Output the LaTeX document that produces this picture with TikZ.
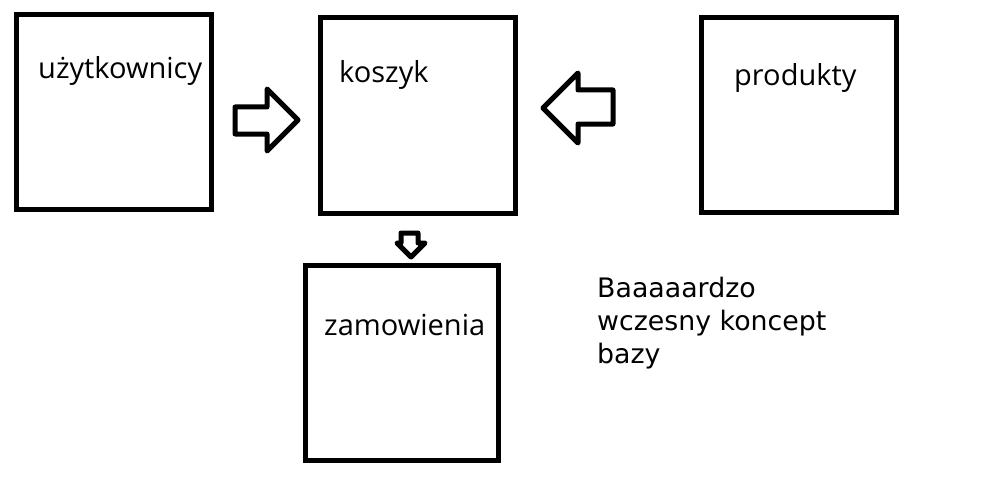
\documentclass[tikz,border=0pt]{standalone}
\usepackage{fontspec}
\setmainfont{DejaVu Sans}
\newfontfamily\labelfont{Open Sans}
\begin{document}
\begin{tikzpicture}[x=1pt,y=-1pt,
  box/.style={draw=black,line width=5pt,fill=white},
  blockarrow/.style={draw=black,line width=5pt,line join=round,fill=white},
  lbl/.style={anchor=base west,inner sep=0pt,font=\labelfont\fontsize{29}{34}\selectfont},
  note/.style={anchor=north west,inner sep=0pt,align=left,font=\fontsize{26.8}{33}\selectfont}]
\useasboundingbox (0,0) rectangle (1000,500);
\draw[box] (16.5,14.5) rectangle (211,209.5);
\draw[box] (320,18) rectangle (515,213);
\draw[box] (701,18) rectangle (896,212);
\draw[box] (305,265) rectangle (498,460);
\node[lbl] (users) at (38,79) {użytkownicy};
\node[lbl] (cart) at (339,83) {koszyk};
\node[lbl] (products) at (734,86) {produkty};
\node[lbl] (orders) at (324,335) {zamowienia};
% right-pointing arrow
\draw[blockarrow] (235,107) -- (267,107) -- (267,89) -- (298,120) -- (267,151) -- (267,134) -- (235,134) -- cycle;
% left-pointing arrow
\draw[blockarrow] (613,90) -- (578,90) -- (578,73) -- (543,108) -- (578,143) -- (578,124) -- (613,124) -- cycle;
% down arrow
\draw[blockarrow] (401,233) -- (418,233) -- (418,243) -- (425,243) -- (411,257) -- (397,243) -- (401,243) -- cycle;
\node[note] (concept) at (597,277) {Baaaaardzo\\wczesny koncept\\bazy};
\end{tikzpicture}
\end{document}
